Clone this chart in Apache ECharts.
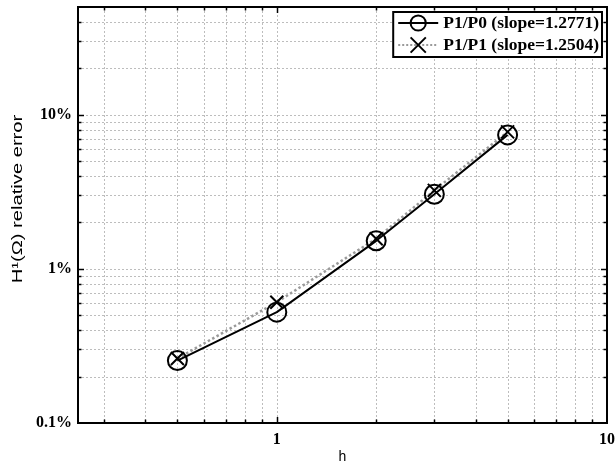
<!DOCTYPE html>
<html>
<head>
<meta charset="utf-8">
<script src="https://cdn.jsdelivr.net/npm/echarts@6/dist/echarts.min.js"></script>
<style>
  html, body { margin: 0; padding: 0; background: #fff; }
  #chart { width: 615px; height: 464px; }
</style>
</head>
<body>
<div id="chart"></div>
<script>
// Mesh size h and H1 relative error (in percent) for the two element pairs
const hValues = [0.5, 1, 2, 3, 5];
const errP1P0 = [0.254, 0.524, 1.52, 3.05, 7.40];
const errP1P1 = [0.262, 0.608, 1.57, 3.23, 7.74];
const seriesNames = ['P1/P0 (slope=1.2771)', 'P1/P1 (slope=1.2504)'];
const yTitle = 'H¹(Ω) relative error';

// Axis ranges and labelled ticks
const xRange = [0.25, 10];
const yRange = [0.1, 50];
const xTickLabels = { 1: '1', 10: '10' };
const yTickLabels = { 0.1: '0.1%', 1: '1%', 10: '10%' };

// Logarithmic grid positions (majors at powers of ten, minors at 2..9)
const xGrid = [0.3, 0.4, 0.5, 0.6, 0.7, 0.8, 0.9, 1, 2, 3, 4, 5, 6, 7, 8, 9];
const yGrid = [0.2, 0.3, 0.4, 0.5, 0.6, 0.7, 0.8, 0.9, 1, 2, 3, 4, 5, 6, 7, 8, 9, 10, 20, 30, 40];
const xMajor = [1];
const yMajor = [1, 10];

function pickLabel(table, v) {
  for (const k in table) {
    if (Math.abs(Math.log10(v) - Math.log10(+k)) < 1e-6) return table[k];
  }
  return '';
}

const serifBold = { fontFamily: 'Liberation Serif', fontWeight: 'bold', fontSize: 16, color: '#000' };

// grid lines + inside ticks on all four sides, positioned by the axes
const gridData = []
  .concat(xGrid.map(v => [v, yRange[0], 0, xMajor.includes(v) ? 1 : 0]))
  .concat(yGrid.map(v => [xRange[0], v, 1, yMajor.includes(v) ? 1 : 0]));

function renderGrid(params, api) {
  const cs = params.coordSys;
  const kind = api.value(2);
  const major = api.value(3) === 1;
  const len = major ? 6 : 3.5;
  const dotted = { stroke: '#bdbdbd', lineWidth: 1, lineDash: [2, 2] };
  const tick = { stroke: '#000', lineWidth: 1.5 };
  if (kind === 0) {
    const p = api.coord([api.value(0), yRange[0]]);
    const x = Math.round(p[0]) + 0.5;
    const top = cs.y, bot = cs.y + cs.height;
    return { type: 'group', children: [
      { type: 'line', shape: { x1: x, y1: top, x2: x, y2: bot }, style: dotted },
      { type: 'line', shape: { x1: x, y1: bot, x2: x, y2: bot - len }, style: tick },
      { type: 'line', shape: { x1: x, y1: top, x2: x, y2: top + len }, style: tick }
    ]};
  } else {
    const p = api.coord([xRange[0], api.value(1)]);
    const y = Math.round(p[1]) + 0.5;
    const left = cs.x, right = cs.x + cs.width;
    return { type: 'group', children: [
      { type: 'line', shape: { x1: left, y1: y, x2: right, y2: y }, style: dotted },
      { type: 'line', shape: { x1: left, y1: y, x2: left + len, y2: y }, style: tick },
      { type: 'line', shape: { x1: right, y1: y, x2: right - len, y2: y }, style: tick }
    ]};
  }
}

const chart = echarts.init(document.getElementById('chart'), null, { renderer: 'canvas' });

chart.setOption({
  animation: false,
  backgroundColor: '#fff',
  grid: {
    left: 78, right: 8, top: 7, bottom: 41, outerBoundsMode: 'none',
    show: true, borderColor: '#000', borderWidth: 2, backgroundColor: 'transparent'
  },
  xAxis: {
    type: 'log', logBase: 10, min: xRange[0], max: xRange[1],
    name: 'h', nameLocation: 'middle', nameGap: 27, nameMoveOverlap: false,
    nameTextStyle: { fontFamily: 'Liberation Sans', fontSize: 14, color: '#000' },
    axisLine: { show: true, lineStyle: { color: '#000', width: 2 } },
    axisTick: { show: false },
    splitLine: { show: false },
    axisLabel: Object.assign({ margin: 9, formatter: v => pickLabel(xTickLabels, v) }, serifBold)
  },
  yAxis: {
    type: 'log', logBase: 10, min: yRange[0], max: yRange[1],
    axisLine: { show: true, lineStyle: { color: '#000', width: 2 } },
    axisTick: { show: false },
    splitLine: { show: false },
    axisLabel: Object.assign({
      margin: 6, verticalAlign: 'middle',
      formatter: v => pickLabel(yTickLabels, v)
    }, serifBold)
  },
  // vertical title, drawn as a rotated text stretched along its length
  graphic: [{
    type: 'text', x: 18, y: 199, rotation: Math.PI / 2, scaleX: 1.44, scaleY: 1,
    style: {
      text: yTitle, fontFamily: 'Liberation Sans', fontSize: 14, fill: '#000',
      align: 'center', verticalAlign: 'middle'
    }
  }],
  legend: {
    data: seriesNames,
    orient: 'vertical',
    right: 13, top: 12,
    backgroundColor: '#fff',
    borderColor: '#000', borderWidth: 2,
    padding: [2, 3, 3, 4],
    itemGap: 4,
    itemWidth: 40, itemHeight: 19,
    textStyle: Object.assign({}, serifBold, { fontSize: 17.5 })
  },
  series: [
    {
      type: 'custom', name: 'grid', silent: true, z: 1, clip: false,
      renderItem: renderGrid, data: gridData,
      encode: { x: 0, y: 1 }
    },
    {
      name: seriesNames[1], type: 'line', z: 3,
      data: hValues.map((h, i) => [h, errP1P1[i]]),
      symbol: 'path://M0,0L10,10M10,0L0,10', symbolSize: 13,
      itemStyle: { color: 'rgba(0,0,0,0)', borderColor: '#000', borderWidth: 2 },
      lineStyle: { color: '#9a9a9a', width: 2.5, type: 'dotted' }
    },
    {
      name: seriesNames[0], type: 'line', z: 4,
      data: hValues.map((h, i) => [h, errP1P0[i]]),
      symbol: 'circle', symbolSize: 19,
      itemStyle: { color: 'rgba(0,0,0,0)', borderColor: '#000', borderWidth: 2 },
      lineStyle: { color: '#000', width: 2 }
    }
  ]
});
</script>
</body>
</html>
